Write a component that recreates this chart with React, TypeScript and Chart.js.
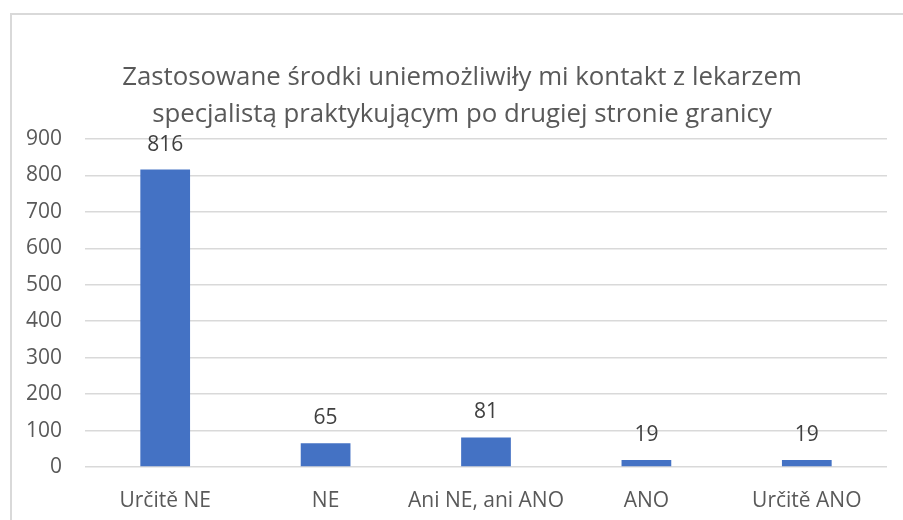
import React, { useEffect, useRef } from "react";
import { Chart, registerables } from "chart.js";

Chart.register(...registerables);

const categories = ["Určitě NE", "NE", "Ani NE, ani ANO", "ANO", "Určitě ANO"];
const values = [816, 65, 81, 19, 19];
const titleLines = [
  "Zastosowane środki uniemożliwiły mi kontakt z lekarzem",
  "specjalistą praktykującym po drugiej stronie granicy",
];
const yTicks = { min: 0, max: 900, step: 100 };

const FONT = "'Open Sans', sans-serif";

const valueLabels = {
  id: "valueLabels",
  afterDatasetsDraw(chart: any) {
    const ctx = chart.ctx;
    const meta = chart.getDatasetMeta(0);
    ctx.save();
    ctx.font = `21px ${FONT}`;
    ctx.fillStyle = "#404040";
    ctx.textAlign = "center";
    ctx.textBaseline = "middle";
    meta.data.forEach((bar: any, i: number) => {
      ctx.fillText(String(values[i]), bar.x, bar.y - 25);
    });
    ctx.restore();
  },
};

const boxTitle = {
  id: "boxTitle",
  afterDraw(chart: any) {
    const ctx = chart.ctx;
    ctx.save();
    ctx.font = `25.8px ${FONT}`;
    ctx.fillStyle = "#595959";
    ctx.textAlign = "center";
    ctx.textBaseline = "middle";
    titleLines.forEach((line, i) => {
      ctx.fillText(line, 462, 77.5 + i * 37.2);
    });
    ctx.restore();
  },
};

export default function App() {
  const ref = useRef<HTMLCanvasElement>(null);
  useEffect(() => {
    if (!ref.current) return;
    const chart = new Chart(ref.current, {
      type: "bar",
      data: {
        labels: categories,
        datasets: [
          {
            data: values,
            backgroundColor: "#4472C4",
            barPercentage: 0.62,
            categoryPercentage: 0.5,
          },
        ],
      },
      options: {
        animation: false,
        responsive: false,
        layout: { padding: { top: 139, right: 16, bottom: 0, left: 10 } },
        plugins: {
          legend: { display: false },
          tooltip: { enabled: false },
          title: { display: false },
        },
        scales: {
          x: {
            grid: { display: false },
            border: { display: false },
            ticks: {
              color: "#595959",
              font: { family: FONT, size: 21 },
              padding: 13,
              maxRotation: 0,
              minRotation: 0,
              autoSkip: false,
            },
            afterFit(scale: any) {
              scale.height = 53;
            },
          },
          y: {
            min: yTicks.min,
            max: yTicks.max,
            grid: { color: "#d9d9d9", lineWidth: 1.5, drawTicks: false },
            border: { display: false },
            ticks: {
              stepSize: yTicks.step,
              color: "#595959",
              font: { family: FONT, size: 21 },
              padding: 23,
            },
            afterFit(scale: any) {
              scale.width = 75;
            },
          },
        },
      },
      plugins: [valueLabels, boxTitle],
    });
    return () => chart.destroy();
  }, []);
  return (
    <div style={{ position: "fixed", left: 0, top: 0, width: 903, height: 520, background: "#fff" }}>
      <div
        style={{
          position: "absolute",
          left: 10,
          top: 13,
          width: 900,
          height: 520,
          borderLeft: "2px solid #d9d9d9",
          borderTop: "2px solid #d9d9d9",
        }}
      />
      <canvas ref={ref} width={903} height={520} style={{ position: "absolute", left: 0, top: 0 }} />
    </div>
  );
}
